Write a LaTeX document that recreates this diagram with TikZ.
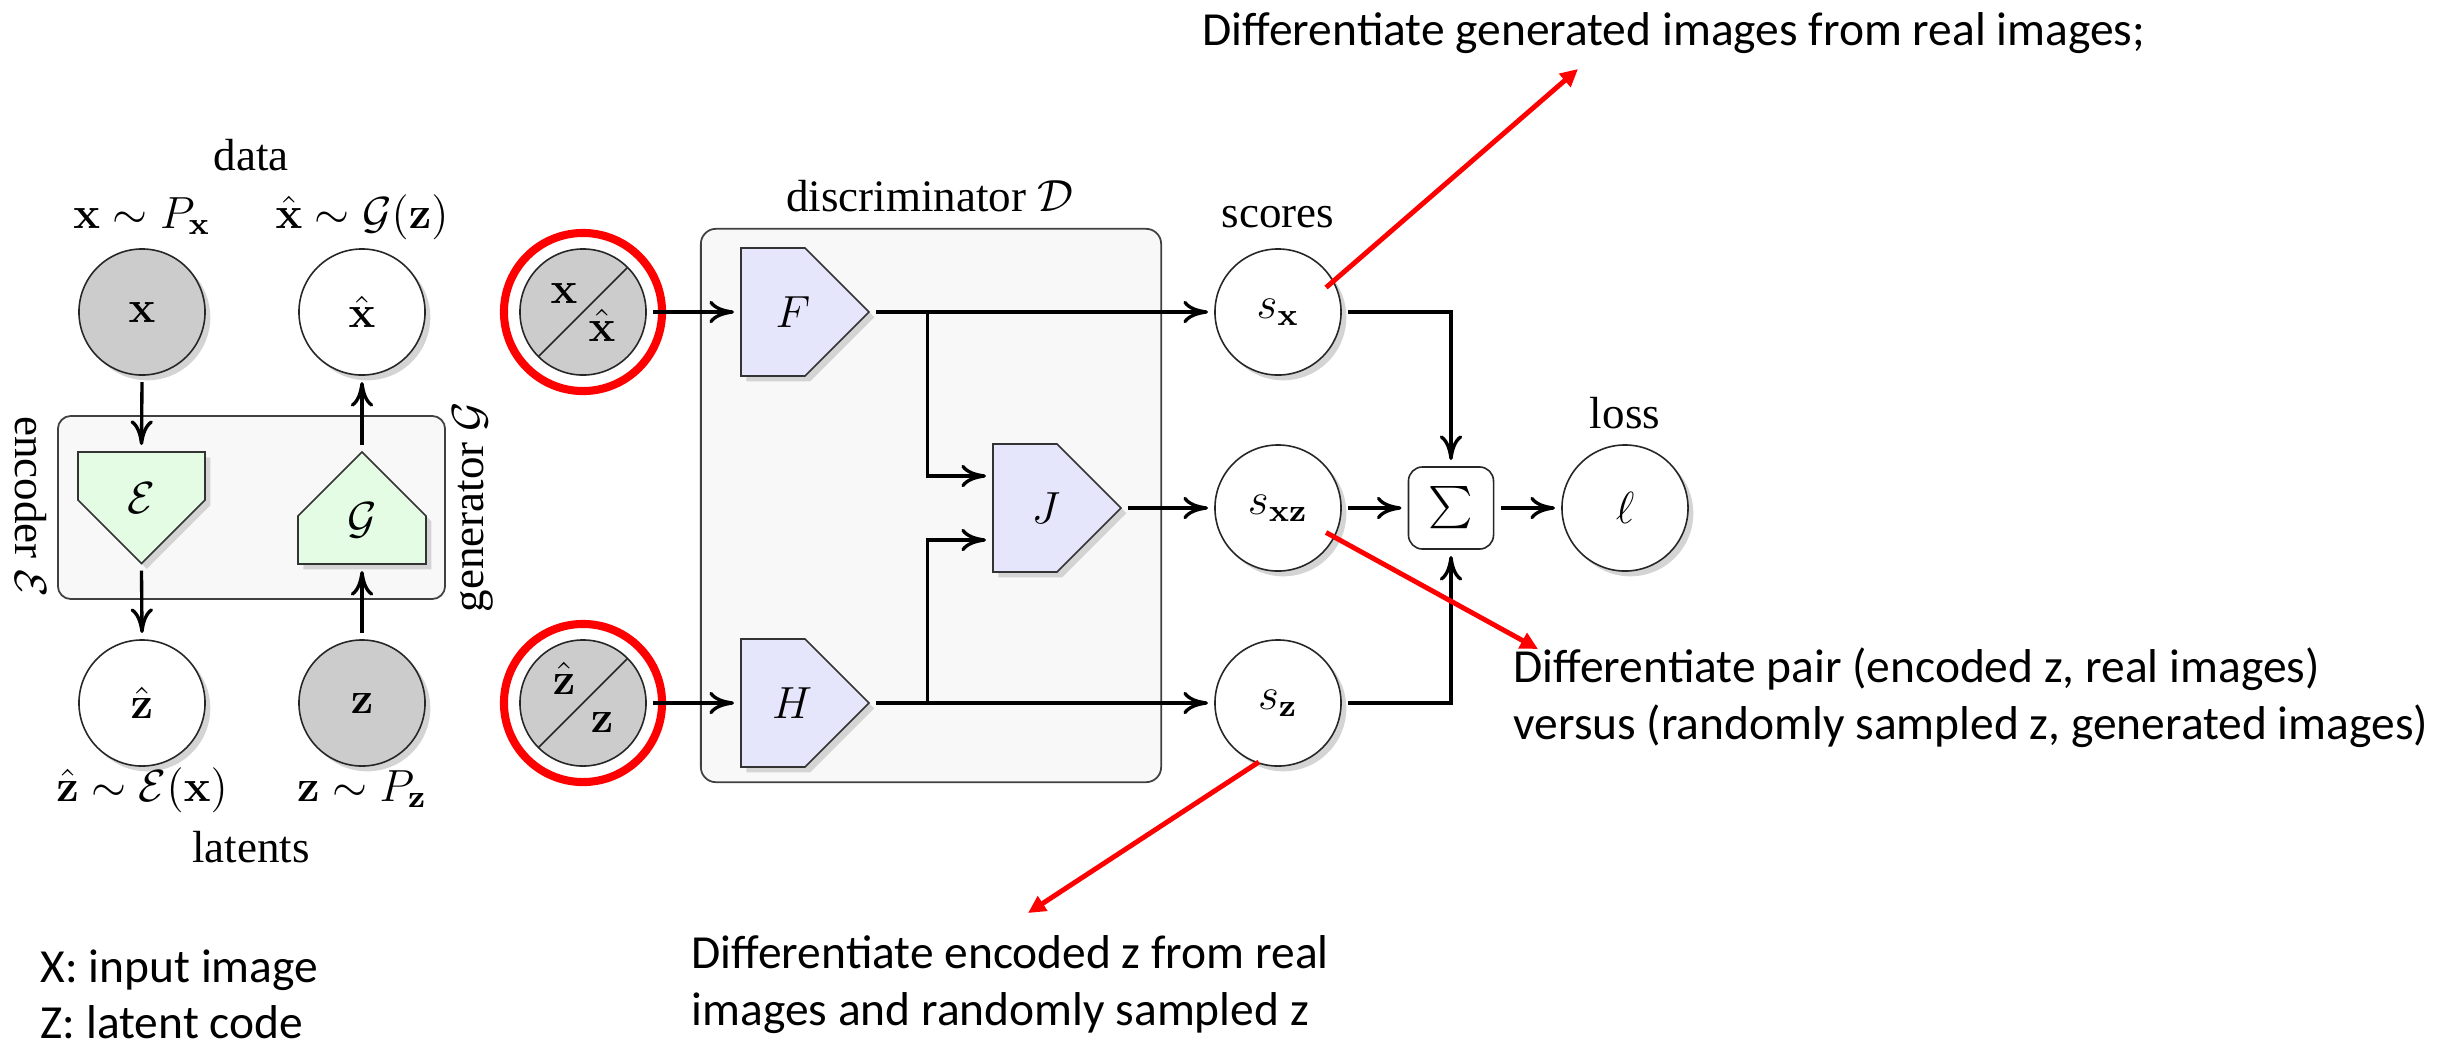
\RequirePackage{fix-cm}
\documentclass[tikz,border=0pt]{standalone}
\usepackage{amsmath}
\usepackage[no-math]{fontspec}
\setmainfont{Liberation Serif}
\newfontfamily\annotfont{Carlito}
\usetikzlibrary{arrows.meta,shadows,calc}

\definecolor{encfill}{RGB}{228,252,228}
\definecolor{disfill}{RGB}{229,229,252}
\definecolor{boxfill}{RGB}{248,248,248}
\definecolor{obsfill}{RGB}{204,204,204}
\definecolor{shadowgray}{RGB}{212,212,212}

\tikzset{
  dfont/.style={font=\fontsize{12.8}{15}\selectfont},
  afont/.style={font=\annotfont\fontsize{13.5}{16.2}\selectfont},
  shd/.style={drop shadow={shadow xshift=1.5pt, shadow yshift=-1.5pt, fill=shadowgray, opacity=1}},
  var/.style={circle, draw=black!85, line width=0.45pt, minimum size=1.26cm, inner sep=0pt, outer sep=0.07cm, fill=white, shd, dfont},
  obs/.style={var, fill=obsfill},
  split/.style={circle, draw=black!85, line width=0.45pt, fill=obsfill, minimum size=1.26cm, inner sep=0pt, outer sep=0.07cm,
    path picture={\draw[line width=0.45pt, black!85] (path picture bounding box.south west) -- (path picture bounding box.north east);}},
  ring/.style={circle, draw=red, line width=2.3pt, minimum size=1.58cm, inner sep=0pt},
  poly/.style={shd, draw=black!80, line width=0.45pt},
  blkbox/.style={rectangle, inner sep=0pt, outer sep=0.07cm, minimum width=1.28cm, minimum height=1.28cm},
  group/.style={rectangle, draw=black!75, fill=boxfill, line width=0.5pt, rounded corners=0.13cm},
  sumbox/.style={rectangle, draw=black!85, fill=white, line width=0.45pt, rounded corners=0.14cm, minimum width=0.85cm, minimum height=0.82cm, inner sep=0pt, outer sep=0.07cm, dfont},
  arr/.style={line width=0.95pt, -{Computer Modern Rightarrow[length=7pt,width=6.4pt]}},
  note/.style={draw=red, line width=1.4pt, -{Triangle[length=5pt,width=4.8pt]}},
  lab/.style={dfont, anchor=base, inner sep=0pt},
  anno/.style={afont, anchor=base west, inner sep=0pt},
}

\begin{document}
\begin{tikzpicture}[x=0.01cm, y=-0.01cm]
\useasboundingbox (0,0) rectangle (2448,1045);
\fill[white] (0,0) rectangle (2448,1045);

% group boxes
\node[group, minimum width=3.87cm, minimum height=1.83cm] (encbox) at (251.5,507.5) {};
\node[group, minimum width=4.60cm, minimum height=5.53cm, rounded corners=0.15cm] (disbox) at (931,505.5) {};

% block outlines: encoder, generator, F, H, J
\filldraw[poly, fill=encfill] (78,452) -- (205,452) -- (205,500) -- (141.5,563.5) -- (78,500) -- cycle;
\filldraw[poly, fill=encfill] (298,564) -- (426,564) -- (426,516) -- (362,452) -- (298,516) -- cycle;
\filldraw[poly, fill=disfill] (741,248) -- (805,248) -- (869,312) -- (805,376) -- (741,376) -- cycle;
\filldraw[poly, fill=disfill] (741,639) -- (805,639) -- (869,703) -- (805,767) -- (741,767) -- cycle;
\filldraw[poly, fill=disfill] (993,444) -- (1057,444) -- (1121,508) -- (1057,572) -- (993,572) -- cycle;

% encoder / generator side
\node[obs] (x)  at (142,312) {$\mathbf{x}$};
\node[var] (xh) at (362,312) {$\hat{\mathbf{x}}$};
\node[var] (zh) at (142,703) {$\hat{\mathbf{z}}$};
\node[obs] (z)  at (362,703) {$\mathbf{z}$};
\node[blkbox, minimum width=1.27cm, minimum height=1.115cm, label={[dfont, yshift=0.1cm]center:$\mathcal{E}$}] (E) at (141.5,507.75) {};
\node[blkbox, minimum height=1.12cm, label={[dfont, yshift=-0.12cm]center:$\mathcal{G}$}] (G) at (362,508) {};

\node[lab] (data) at (251,170) {data};
\node[lab] (xlab) at (142,228) {$\mathbf{x}\sim P_{\mathbf{x}}$};
\node[lab] (xhlab) at (362,228) {$\hat{\mathbf{x}}\sim \mathcal{G}(\mathbf{z})$};
\node[lab] (zhlab) at (142,801) {$\hat{\mathbf{z}}\sim \mathcal{E}(\mathbf{x})$};
\node[lab] (zlab) at (362,801) {$\mathbf{z}\sim P_{\mathbf{z}}$};
\node[lab] (latents) at (251,862) {latents};
\node[dfont, rotate=-90] (enclab) at (31,507) {encoder $\mathcal{E}$};
\node[dfont, rotate=90] (genlab) at (473,507) {generator $\mathcal{G}$};

\draw[arr] (x.south) -- (E.north);
\draw[arr] (E.south) -- (zh.north);
\draw[arr] (z.north) -- (G.south);
\draw[arr] (G.north) -- (xh.south);

% discriminator inputs
\node[split] (sp1) at (583,312) {};
\node[split] (sp2) at (583,703) {};
\node[lab] (sp1a) at (564,303) {$\mathbf{x}$};
\node[lab] (sp1b) at (602,341) {$\hat{\mathbf{x}}$};
\node[lab] (sp2a) at (564,694) {$\hat{\mathbf{z}}$};
\node[lab] (sp2b) at (602,732) {$\mathbf{z}$};
\node[ring] (ring1) at (583,312) {};
\node[ring] (ring2) at (583,703) {};

% discriminator
\node[lab] (dislab) at (930,211) {discriminator $\mathcal{D}$};
\node[blkbox, label={[dfont, xshift=-0.12cm]center:$F$}] (F) at (805,312) {};
\node[blkbox, label={[dfont, xshift=-0.13cm]center:$H$}] (H) at (805,703) {};
\node[blkbox, label={[dfont, xshift=-0.11cm]center:$J$}] (J) at (1057,508) {};

% scores and loss
\node[var] (sx)  at (1278,312) {$s_{\mathbf{x}}$};
\node[var] (sxz) at (1278,508) {$s_{\mathbf{xz}}$};
\node[var] (sz)  at (1278,703) {$s_{\mathbf{z}}$};
\node[sumbox] (sum) at (1451,508) {$\sum$};
\node[var] (loss) at (1625,508) {$\ell$};
\node[lab] (scores) at (1278,227) {scores};
\node[lab] (losslab) at (1625,428) {loss};

\draw[arr] (sp1.east) -- (F.west);
\draw[arr] (sp2.east) -- (H.west);
\draw[arr] (F.east) -- (sx.west);
\draw[arr] (H.east) -- (sz.west);
\coordinate (forkF) at ($(F.east)!0.47!(F.east -| J.west)$);
\coordinate (forkH) at ($(H.east)!0.47!(H.east -| J.west)$);
\coordinate (jinF) at ($(J.west)+(0,-32)$);
\coordinate (jinH) at ($(J.west)+(0,32)$);
\draw[arr] (forkF) |- (jinF);
\draw[arr] (forkH) |- (jinH);
\draw[arr] (J.east) -- (sxz.west);
\draw[arr] (sx.east) -| (sum.north);
\draw[arr] (sz.east) -| (sum.south);
\draw[arr] (sxz.east) -- (sum.west);
\draw[arr] (sum.east) -- (loss.west);

% annotations
\coordinate (t1) at (1578,69);
\coordinate (t2) at (1538,649);
\coordinate (t3) at (1028,913);
\draw[note] ($(sx.center)!0.77!(sx.27)$) -- (t1);
\draw[note] ($(sxz.center)!0.77!(sxz.-27)$) -- (t2);
\draw[note] ($(sz.center)!0.886!(sz.-108)$) -- (t3);

\node[anno] (n1) at (1202,45) {Differentiate generated images from real images;};
\node[anno] (n2a) at (1513,682) {Differentiate pair (encoded z, real images)};
\node[anno] (n2b) at (1513,739) {versus (randomly sampled z, generated images)};
\node[anno] (n3a) at (691,968) {Differentiate encoded z from real};
\node[anno] (n3b) at (691,1025) {images and randomly sampled z};
\node[anno] (leg1) at (40,982) {X: input image};
\node[anno] (leg2) at (40,1038) {Z: latent code};
\end{tikzpicture}
\end{document}
